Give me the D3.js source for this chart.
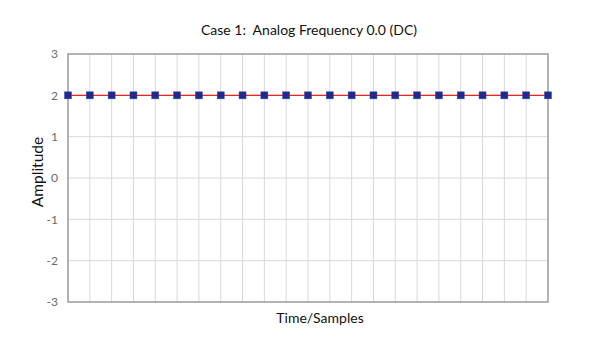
<!DOCTYPE html>
<html><head><meta charset="utf-8">
<script src="https://cdn.jsdelivr.net/npm/d3@7"></script>
<style>body{margin:0;background:#fff}svg{display:block}text{font-family:Lato,"Open Sans",sans-serif}</style>
</head><body>
<svg id="c" width="600" height="343"></svg>
<script>
const title = "Case 1:  Analog Frequency 0.0 (DC)";
const xLabel = "Time/Samples";
const yLabel = "Amplitude";
const samples = d3.range(0, 23);
const values = [2,2,2,2,2,2,2,2,2,2,2,2,2,2,2,2,2,2,2,2,2,2,2];
const yTicks = [-3,-2,-1,0,1,2,3];

const svg = d3.select("#c");
const m = {l:68, r:548, t:54, b:302};
const x = d3.scaleLinear().domain([0, 22]).range([m.l, m.r]);
const y = d3.scaleLinear().domain([-3, 3]).range([m.b, m.t]);

// vertical grid
svg.append("g").selectAll("line").data(samples.slice(1, -1)).join("line")
  .attr("x1", d=>x(d)).attr("x2", d=>x(d)).attr("y1", m.t).attr("y2", m.b)
  .attr("stroke", "#d9d9d9").attr("stroke-width", 1);
// horizontal grid
svg.append("g").selectAll("line").data(yTicks.slice(1, -1)).join("line")
  .attr("x1", m.l).attr("x2", m.r).attr("y1", d=>y(d)).attr("y2", d=>y(d))
  .attr("stroke", "#d9d9d9").attr("stroke-width", 1);
// frame
svg.append("rect").attr("x", m.l).attr("y", m.t).attr("width", m.r-m.l).attr("height", m.b-m.t)
  .attr("fill", "none").attr("stroke", "#8c8c8c").attr("stroke-width", 1.3);

// y axis labels
const ya = svg.append("g").attr("transform", `translate(${m.l},0)`)
  .call(d3.axisLeft(y).tickValues(yTicks).tickSize(0).tickPadding(10).tickFormat(d => String(d)));
ya.select(".domain").remove();
ya.selectAll("text").attr("fill", "#6b6b6b").style("font-size", "12px").style("font-family", 'Lato,sans-serif');

// line
svg.append("path").datum(values)
  .attr("d", d3.line().x((d,i)=>x(samples[i])).y(d=>y(d)))
  .attr("fill", "none").attr("stroke", "#e8251f").attr("stroke-width", 1.3);
// markers
svg.append("g").selectAll("rect").data(values).join("rect")
  .attr("x", (d,i)=>x(samples[i])-3.5).attr("y", d=>y(d)-3.5)
  .attr("width", 7).attr("height", 7)
  .attr("fill", "#1e2a8c").attr("stroke", "#3a46a8").attr("stroke-width", 0.5);

// titles
svg.append("text").attr("x", 309).attr("y", 35).attr("text-anchor", "middle")
  .attr("xml:space", "preserve").style("white-space", "pre")
  .style("font-size", "14px").attr("fill", "#111").text(title);
svg.append("text").attr("x", 320).attr("y", 323).attr("text-anchor", "middle")
  .style("font-size", "14px").attr("fill", "#111").text(xLabel);
svg.append("text").attr("transform", "translate(43,172) rotate(-90)").attr("text-anchor", "middle")
  .style("font-size", "15.5px").attr("fill", "#111").text(yLabel);
</script>
</body></html>
